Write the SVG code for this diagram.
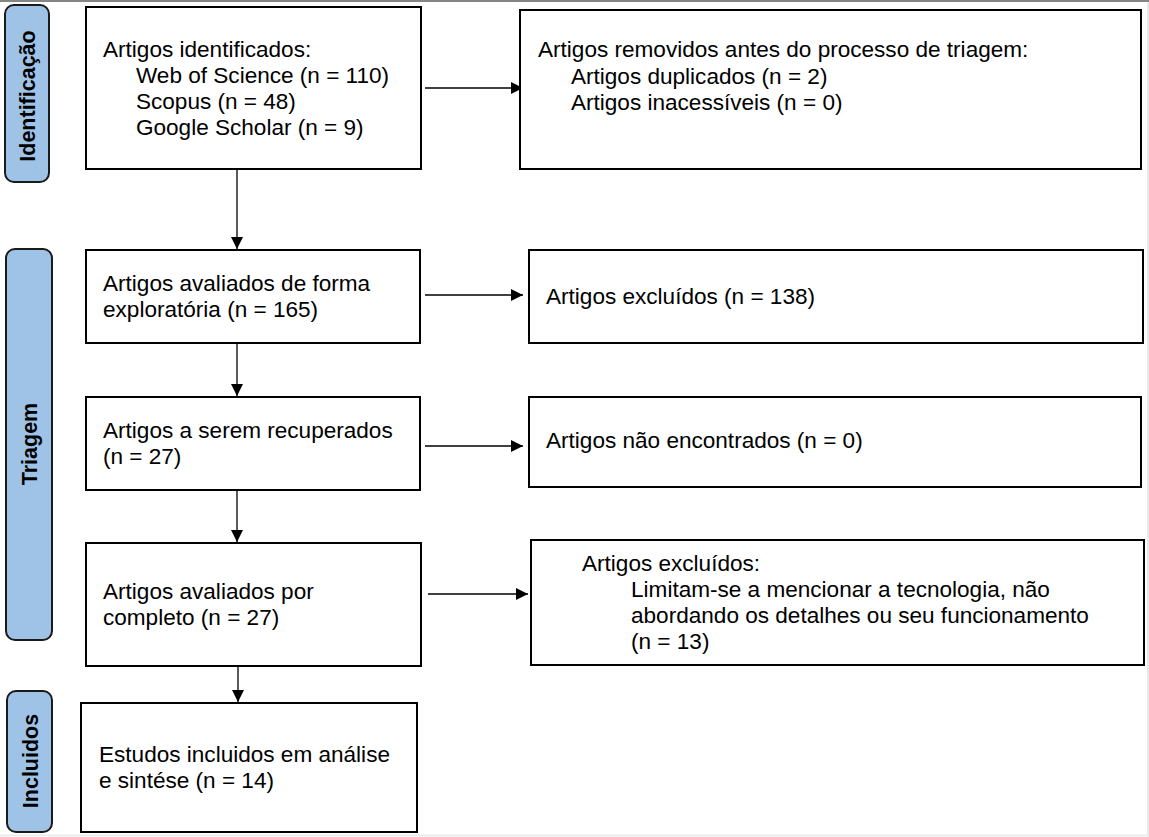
<svg xmlns="http://www.w3.org/2000/svg" width="1149" height="837" viewBox="0 0 1149 837">
<style>
.box{fill:#fff;stroke:#000;stroke-width:2}
.lane{fill:#9fc3e7;stroke:#1a1a1a;stroke-width:2}
.t{font-family:"Liberation Sans",Arial,sans-serif;font-size:21.5px;fill:#000}
.lt{font-family:"Liberation Sans",Arial,sans-serif;font-size:21.5px;font-weight:bold;fill:#000;text-anchor:middle}
.c{stroke:#000;stroke-width:1.3;fill:none;marker-end:url(#ah)}
</style>
<defs>
<marker id="ah" viewBox="0 0 12 12" refX="12" refY="6" markerWidth="12" markerHeight="12" markerUnits="userSpaceOnUse" orient="auto">
<path d="M0,0 L12,6 L0,12 Z" fill="#000"/>
</marker>
</defs>
<rect width="1149" height="837" fill="#fff"/>
<line x1="0" y1="1" x2="1149" y2="1" stroke="#858585" stroke-width="2"/>
<line x1="1148" y1="2" x2="1148" y2="837" stroke="#e2e2e2" stroke-width="1.5"/>
<line x1="0" y1="835.5" x2="1149" y2="835.5" stroke="#ececec" stroke-width="2"/>

<g id="lane-identificacao">
<rect class="lane" x="5" y="5" width="44" height="177" rx="9"/>
<text class="lt" transform="translate(27,96) rotate(-90)" y="7.7">Identificação</text>
</g>
<g id="lane-triagem">
<rect class="lane" x="6" y="249" width="46" height="391" rx="9"/>
<text class="lt" transform="translate(29,444) rotate(-90)" y="7.7">Triagem</text>
</g>
<g id="lane-incluidos">
<rect class="lane" x="7" y="691" width="45" height="141" rx="9"/>
<text class="lt" transform="translate(30,761) rotate(-90)" y="7.7">Incluidos</text>
</g>

<g id="connectors">
<line class="c" x1="425" y1="88" x2="523" y2="88"/>
<line class="c" x1="237" y1="170" x2="237" y2="249"/>
<line class="c" x1="425" y1="295" x2="523" y2="295"/>
<line class="c" x1="237" y1="344" x2="237" y2="396"/>
<line class="c" x1="425" y1="446" x2="523" y2="446"/>
<line class="c" x1="237" y1="491" x2="237" y2="542"/>
<line class="c" x1="428" y1="594" x2="528" y2="594"/>
<line class="c" x1="238" y1="667" x2="238" y2="702"/>
</g>

<g id="n1">
<rect class="box" x="86" y="7" width="335" height="162"/>
<text class="t" transform="translate(103,57) scale(1.05 1)"><tspan x="0" y="0">Artigos identificados:</tspan><tspan x="31.4" y="26">Web of Science (n = 110)</tspan><tspan x="31.4" y="52">Scopus (n = 48)</tspan><tspan x="31.4" y="78">Google Scholar (n = 9)</tspan></text>
</g>
<g id="n2">
<rect class="box" x="520" y="10" width="621" height="159"/>
<text class="t" transform="translate(538,57) scale(1.05 1)"><tspan x="0" y="0">Artigos removidos antes do processo de triagem:</tspan><tspan x="31.4" y="27">Artigos duplicados (n = 2)</tspan><tspan x="31.4" y="53">Artigos inacessíveis (n = 0)</tspan></text>
</g>
<g id="n3">
<rect class="box" x="86" y="250" width="334" height="93"/>
<text class="t" transform="translate(103,291) scale(1.05 1)"><tspan x="0" y="0">Artigos avaliados de forma</tspan><tspan x="0" y="26">exploratória (n = 165)</tspan></text>
</g>
<g id="n4">
<rect class="box" x="529" y="250" width="614" height="93"/>
<text class="t" transform="translate(546,304) scale(1.05 1)">Artigos excluídos (n = 138)</text>
</g>
<g id="n5">
<rect class="box" x="86" y="397" width="334" height="93"/>
<text class="t" transform="translate(103,438) scale(1.05 1)"><tspan x="0" y="0">Artigos a serem recuperados</tspan><tspan x="0" y="26">(n = 27)</tspan></text>
</g>
<g id="n6">
<rect class="box" x="529" y="397" width="612" height="90"/>
<text class="t" transform="translate(546,448) scale(1.05 1)">Artigos não encontrados (n = 0)</text>
</g>
<g id="n7">
<rect class="box" x="86" y="543" width="335" height="123"/>
<text class="t" transform="translate(103,599) scale(1.05 1)"><tspan x="0" y="0">Artigos avaliados por</tspan><tspan x="0" y="26">completo (n = 27)</tspan></text>
</g>
<g id="n8">
<rect class="box" x="531" y="540" width="613" height="125"/>
<text class="t" transform="translate(582,571) scale(1.05 1)"><tspan x="0" y="0">Artigos excluídos:</tspan><tspan x="46.7" y="26">Limitam-se a mencionar a tecnologia, não</tspan><tspan x="46.7" y="52">abordando os detalhes ou seu funcionamento</tspan><tspan x="46.7" y="78">(n = 13)</tspan></text>
</g>
<g id="n9">
<rect class="box" x="81" y="703" width="336" height="129"/>
<text class="t" transform="translate(99,762) scale(1.05 1)"><tspan x="0" y="0">Estudos incluidos em análise</tspan><tspan x="0" y="26">e sintése (n = 14)</tspan></text>
</g>
</svg>
